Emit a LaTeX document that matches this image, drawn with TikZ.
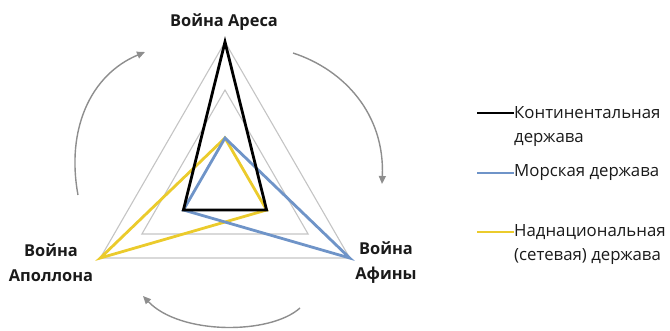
\documentclass[tikz,border=0pt]{standalone}
\usepackage{fontspec}
\setmainfont{Open Sans}
\usetikzlibrary{arrows.meta}
\definecolor{gridgray}{HTML}{C4C4C4}
\definecolor{arrgray}{HTML}{8E8E8E}
\definecolor{seablue}{HTML}{6F94C8}
\definecolor{netyellow}{HTML}{EBCB2C}
\definecolor{txt}{HTML}{1A1A1A}
\tikzset{
  gridline/.style={draw=gridgray, line width=1.1pt, line join=miter},
  series/.style={line width=2.8pt, line join=miter},
  cyc/.style={draw=arrgray, line width=1.4pt, -{Triangle[length=8pt,width=7pt]}},
  axlabel/.style={font=\fontsize{16.4}{25}\selectfont\bfseries, align=center, text=txt},
  legtext/.style={font=\fontsize{16.8}{26}\selectfont, anchor=west, inner sep=0pt, text=txt},
}
\begin{document}
\begin{tikzpicture}[x=1pt,y=-1pt]
\useasboundingbox (0,0) rectangle (670,331);
\coordinate (c) at (225,186);
\coordinate (A3) at (225,42);
\coordinate (A2) at (225,90);
\coordinate (A1) at (225,138);
\coordinate (L3) at (100.3,258);
\coordinate (L2) at (141.9,234);
\coordinate (L1) at (183.4,210);
\coordinate (R3) at (349.7,258);
\coordinate (R2) at (308.1,234);
\coordinate (R1) at (266.6,210);
% grid
\draw[gridline] (A3) -- (R3) -- (L3) -- cycle;
\draw[gridline] (A2) -- (R2) -- (L2) -- cycle;
% series
\draw[series, draw=netyellow] (A1) -- (R1) -- (L3) -- cycle;
\draw[series, draw=seablue] (A1) -- (R3) -- (L1) -- cycle;
\draw[series, draw=black] (A3) -- (R1) -- (L1) -- cycle;
% labels
\node[axlabel] (ares) at (224,22) {Война Ареса};
\node[axlabel] (apollo) at (51,263) {Война\\Аполлона};
\node[axlabel] (athena) at (386,263) {Война\\Афины};
% cycle arrows
\coordinate (a1s) at (78,195);
\coordinate (a1e) at (145,52);
\coordinate (a2s) at (293,53);
\coordinate (a2e) at (382,184);
\coordinate (a3s) at (300,308);
\coordinate (a3e) at (143,296);
\draw[cyc] (a1s) .. controls (66,130) and (90,75) .. (a1e);
\draw[cyc] (a2s) .. controls (345,70) and (385,115) .. (a2e);
\draw[cyc] (a3s) .. controls (270,335) and (180,335) .. (a3e);
% legend
\coordinate (k1) at (477,113);
\coordinate (k2) at (477,173);
\coordinate (k3) at (477,232);
\node[legtext] (t1) at (514,113) {Континентальная};
\node[legtext] (t1b) at (514,140) {держава};
\node[legtext] (t2) at (514,173) {Морская держава};
\node[legtext] (t3) at (514,232) {Наднациональная};
\node[legtext] (t3b) at (514,257) {(сетевая) держава};
\draw[line width=2.8pt, black] (k1) -- (t1.west);
\draw[line width=2.8pt, seablue] (k2) -- (t2.west);
\draw[line width=2.8pt, netyellow] (k3) -- (t3.west);
\end{tikzpicture}
\end{document}
